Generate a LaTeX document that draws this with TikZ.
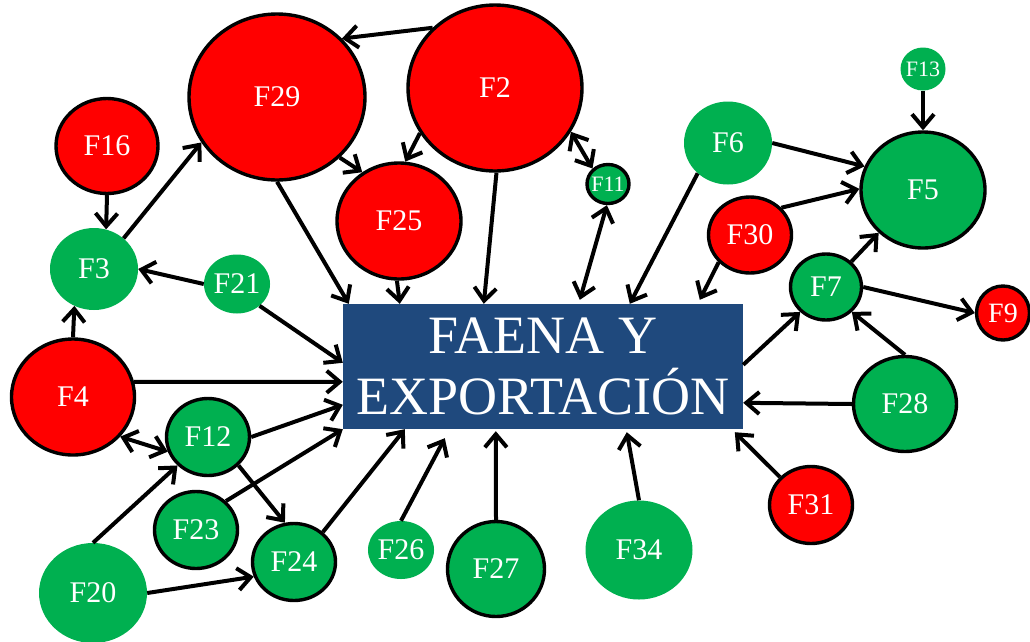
\documentclass[tikz,border=0pt]{standalone}
\usepackage{fontspec}
\setmainfont{Liberation Serif}
\usetikzlibrary{shapes.geometric,arrows.meta,calc}
\definecolor{fred}{RGB}{255,0,0}
\definecolor{fgreen}{RGB}{0,176,80}
\definecolor{fblue}{RGB}{31,73,125}
\begin{document}
\begin{tikzpicture}[x=1pt,y=-1pt,
  fac/.style={ellipse, inner sep=0pt, text=white, font=\fontsize{30}{32}\selectfont},
  rb/.style={fac, fill=fred, draw=black, line width=3.4pt},
  gb/.style={fac, fill=fgreen, draw=black, line width=3.4pt},
  gn/.style={fac, fill=fgreen},
  sz/.style 2 args={minimum width=#1pt, minimum height=#2pt},
  small/.style={font=\fontsize{22}{24}\selectfont},
  arr/.style={line width=4pt, -{Straight Barb[length=13pt,width=22pt]}},
  biarr/.style={line width=4pt, {Straight Barb[length=13pt,width=22pt]}-{Straight Barb[length=13pt,width=22pt]}},
  mainbox/.style={fill=fblue, text=white, align=center, minimum width=400pt, minimum height=125pt, inner sep=0pt, font=\fontsize{54}{61}\selectfont}
]
\useasboundingbox (0,0) rectangle (1030,641);

\node[mainbox] (box) at (543,366.5) {FAENA Y\\EXPORTACIÓN};

\node[rb, sz={176}{166}] (F29) at (277,97) {F29};
\node[rb, sz={174}{166}] (F2) at (495,88) {F2};
\node[rb, sz={102}{95}] (F16) at (107,146) {F16};
\node[rb, sz={124}{116}] (F25) at (399,221) {F25};
\node[gn, sz={88}{82}] (F3) at (94,269) {F3};
\node[gn, sz={62}{59}] (F21) at (237,284) {F21};
\node[gb, sz={42}{39}, small] (F11) at (608,184) {\makebox[0pt]{F11}};
\node[gn, sz={88}{83}] (F6) at (728,143) {F6};
\node[gn, sz={45}{43}, small] (F13) at (923,69) {\makebox[0pt]{F13}};
\node[gb, sz={124}{116}] (F5) at (923,190) {F5};
\node[rb, sz={83}{76}] (F30) at (750,235) {F30};
\node[gb, sz={71}{66}] (F7) at (826,287) {F7};
\node[rb, sz={53}{54}, font=\fontsize{28}{30}\selectfont] (F9) at (1003,313) {F9};
\node[rb, sz={123}{116}] (F4) at (73,397) {F4};
\node[gb, sz={83}{77}] (F12) at (208,437) {F12};
\node[gb, sz={83}{77}] (F23) at (196,530) {F23};
\node[gb, sz={83}{77}] (F24) at (294,562) {F24};
\node[gn, sz={108}{100}] (F20) at (93,593) {F20};
\node[gn, sz={64}{58}] (F26) at (401,550) {F26};
\node[gb, sz={97}{95}] (F27) at (496,569) {F27};
\node[gn, sz={107}{99}] (F34) at (639,550) {F34};
\node[rb, sz={83}{77}] (F31) at (811,505) {F31};
\node[gb, sz={103}{95}] (F28) at (905,404) {F28};

\coordinate (t26) at ($(box.south west)+(102,9)$);

\draw[arr] (F2.136) -- (F29.42);
\draw[arr] (F2.211) -- (F25.84);
\draw[arr] (F29.316) -- (F25.127);
\draw[arr] (F2.271) -- ($(box.north west)+(141,0)$);
\draw[arr] (F29.270) -- ($(box.north west)+(6,0)$);
\draw[arr] (F25.268) -- ($(box.north west)+(57,0)$);
\draw[biarr] (F2.330) -- (F11.135);
\draw[biarr] (F11.267) -- ($(box.north west)+(237,-4)$);
\draw[arr] (F6.225) -- ($(box.north west)+(287,0)$);
\draw[arr] (F6.0) -- (F5.158);
\draw[arr] (F30.41) -- (F5.179);
\draw[arr] (F30.221) -- ($(box.north west)+(357,-4)$);
\draw[arr] (F13.270) -- (F5.90);
\draw[arr] (F7.45) -- (F5.224);
\draw[arr] (F7.0) -- (F9.180);
\draw[arr] ($(box.north east)+(0,61)$) -- (F7.224);
\draw[arr] (F28.90) -- (F7.316);
\draw[arr] (F28.180) -- ($(box.north east)+(0,99)$);
\draw[arr] (F31.138) -- ($(box.south west)+(392,3)$);
\draw[arr] (F34.90) -- ($(box.south west)+(284,3)$);
\draw[arr] (F27.90) -- ($(box.south west)+(153,2)$);
\draw[arr] (F26.90) -- (t26);
\draw[arr] (F24.46) -- ($(box.south west)+(62,0)$);
\draw[arr] (F23.44) -- (box.south west);
\draw[arr] (F12.0) -- ($(box.north west)+(0,101)$);
\draw[arr] (F4.14) -- ($(box.north west)+(0,78)$);
\draw[arr] (F21.316) -- ($(box.north west)+(0,59)$);
\draw[biarr] (F4.320) -- (F12.200);
\draw[arr] (F12.317) -- (F24.103);
\draw[arr] (F20.90) -- (F12.223);
\draw[arr] (F20.0) -- (F24.200);
\draw[arr] (F3.46) -- (F29.211);
\draw[arr] (F16.270) -- (F3.73);
\draw[arr] (F21.180) -- (F3.0);
\draw[arr] (F4.90) -- (F3.242);
\end{tikzpicture}
\end{document}
